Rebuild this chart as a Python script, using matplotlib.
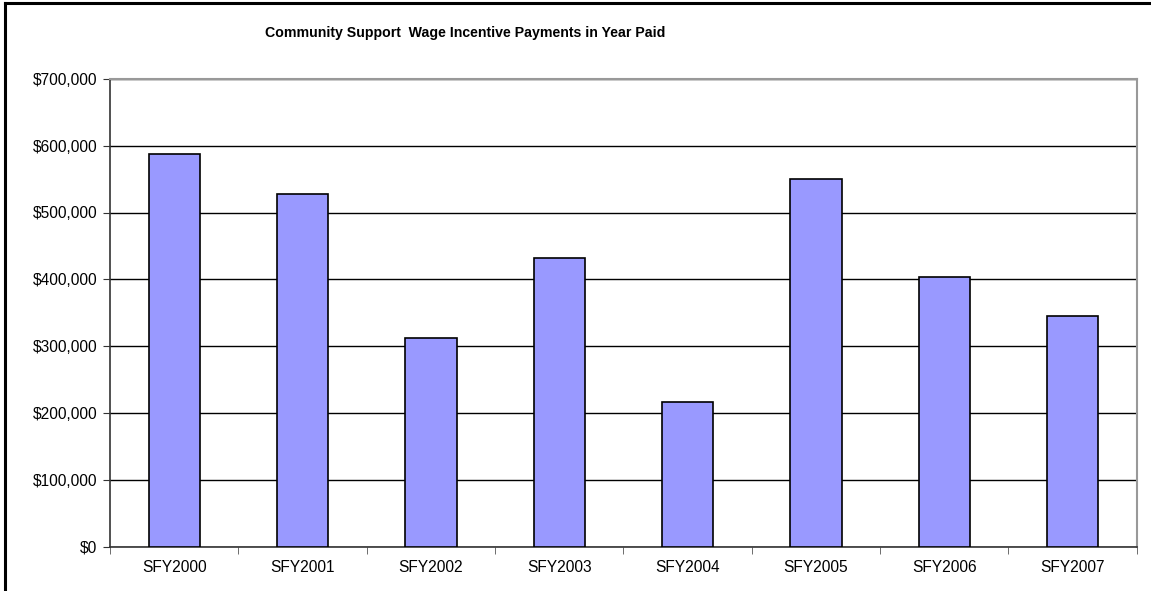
import numpy as np
import matplotlib.pyplot as plt
from matplotlib.lines import Line2D
from matplotlib.ticker import FuncFormatter

# data
years = ['SFY2000', 'SFY2001', 'SFY2002', 'SFY2003',
         'SFY2004', 'SFY2005', 'SFY2006', 'SFY2007']
payments = [587000, 528000, 312000, 431500, 216000, 550000, 403500, 346000]
y_ticks = [0, 100000, 200000, 300000, 400000, 500000, 600000, 700000]

plt.rcParams['font.family'] = ['Liberation Sans', 'DejaVu Sans']

fig = plt.figure(figsize=(11.51, 5.91), dpi=100)
ax = fig.add_axes([110 / 1151, 1 - 547 / 591, (1136.7 - 110) / 1151, (547 - 78.7) / 591])

x = np.arange(len(years))
ax.set_axisbelow(True)
ax.yaxis.grid(True, color='black', linewidth=1.0)
ax.bar(x, payments, width=0.4, color='#9999ff', edgecolor='black', linewidth=1.2, zorder=3)

ax.set_xlim(-0.5, len(years) - 0.5)
ax.set_ylim(0, 700000)
ax.set_yticks(y_ticks)
ax.yaxis.set_major_formatter(FuncFormatter(lambda v, p: '${:,.0f}'.format(v)))
ax.set_xticks(x)
ax.set_xticklabels(years)
ax.set_xticks(np.arange(len(years) + 1) - 0.5, minor=True)
ax.tick_params(axis='x', which='major', length=0, pad=9, labelsize=11.2)
ax.tick_params(axis='x', which='minor', length=5, direction='out', color='#555555')
ax.tick_params(axis='y', length=5, direction='out', pad=4, labelsize=11.2, color='#333333')

for s in ['left', 'bottom']:
    ax.spines[s].set_color('#333333')
    ax.spines[s].set_linewidth(1.2)
for s in ['top', 'right']:
    ax.spines[s].set_color('#999999')
    ax.spines[s].set_linewidth(1.5)

fig.text(465 / 1151, 1 - 33 / 591, 'Community Support  Wage Incentive Payments in Year Paid',
         ha='center', va='center', fontsize=10.2, fontweight='bold')

# outer chart border (only top and left are visible in the crop)
fig.add_artist(Line2D([5 / 1151, 5 / 1151], [0, 1 - 3 / 591], transform=fig.transFigure,
                      color='black', linewidth=2.2))
fig.add_artist(Line2D([5 / 1151, 1], [1 - 3 / 591, 1 - 3 / 591], transform=fig.transFigure,
                      color='black', linewidth=2.2))

fig.savefig('out.png', dpi=100)
